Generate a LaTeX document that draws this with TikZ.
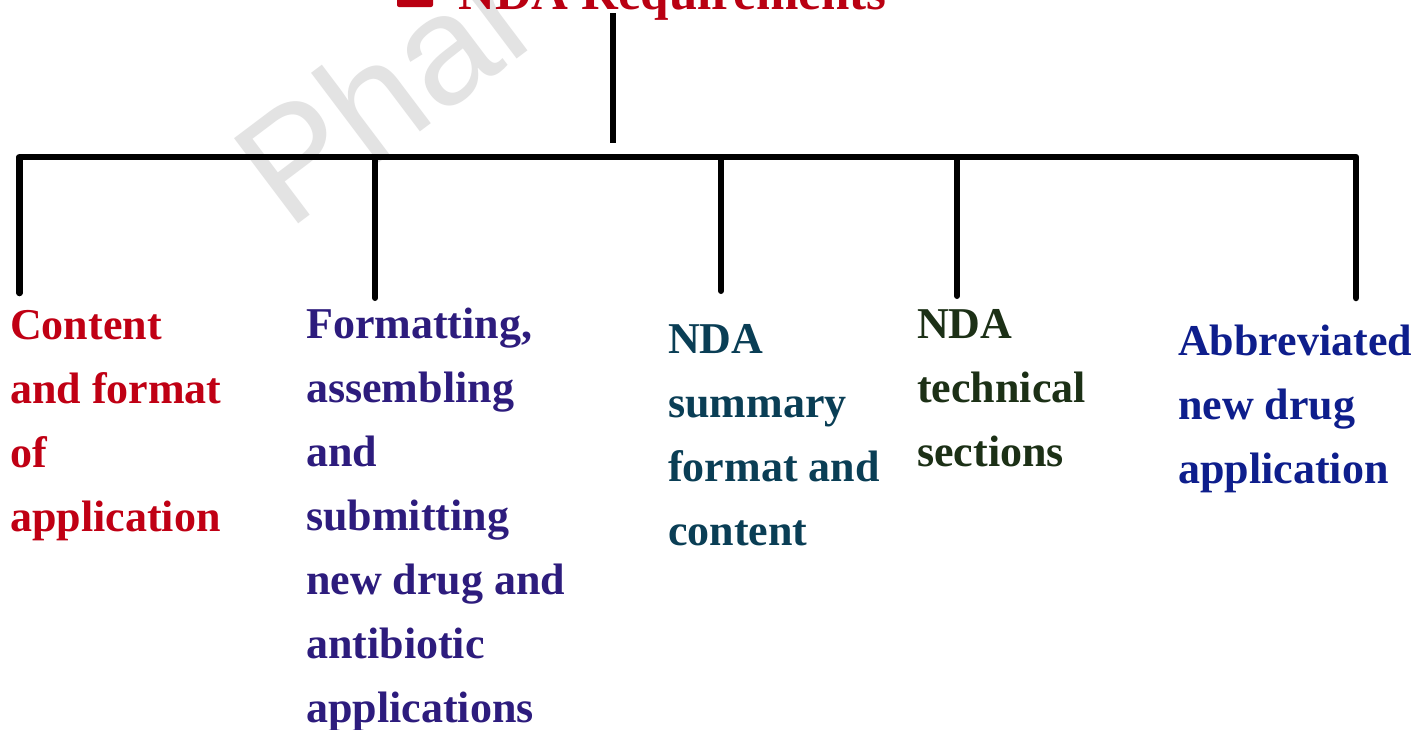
\documentclass[tikz,border=0pt]{standalone}
\usepackage{fontspec}
\setmainfont{Liberation Serif}
\newfontfamily\wmfont{Liberation Sans}
\definecolor{titlered}{RGB}{185,0,18}
\definecolor{cred}{RGB}{192,0,20}
\definecolor{cindigo}{RGB}{45,28,125}
\definecolor{cteal}{RGB}{10,62,85}
\definecolor{cgreen}{RGB}{28,48,22}
\definecolor{cblue}{RGB}{14,30,140}
\tikzset{
  conn/.style={line width=6.5pt, black, line join=round, line cap=round},
  label/.style={anchor=north west, inner sep=0pt, align=left,
    font=\fontsize{44}{64}\selectfont\bfseries},
}
\newcommand{\fl}{\rule{0pt}{32pt}}
\begin{document}
\begin{tikzpicture}[x=1pt,y=-1pt]
\useasboundingbox (0,0) rectangle (1420,729);
\clip (0,0) rectangle (1420,729);
\fill[white] (0,0) rectangle (1420,729);
% watermark
\node[anchor=base west, inner sep=0pt, rotate=37, text=black!11,
  font=\wmfont\fontsize{155}{160}\selectfont] (wm) at (288,232) {Phar};
% title
\fill[titlered, rounded corners=2pt] (397,-29) rectangle (433,7);
\node[anchor=base west, inner sep=0pt, text=titlered,
  font=\fontsize{51}{60}\selectfont\bfseries] (title) at (458,9) {NDA Requirements};
% coordinates
\coordinate (top) at (613,13);
\coordinate (stemend) at (613,143);
\coordinate (bus) at (613,157);
\coordinate (d1) at (19.5,293);
\coordinate (d2) at (375,298);
\coordinate (d3) at (721,291);
\coordinate (d4) at (957,296);
\coordinate (d5) at (1356,298);
% connectors
\draw[conn, line width=6pt, line cap=butt] (top) -- (stemend);
\draw[conn] (d1) -- (d1 |- bus) -- (d5 |- bus) -- (d5);
\draw[conn, line width=6pt] (d2 |- bus) -- (d2);
\draw[conn, line width=6pt] (d3 |- bus) -- (d3);
\draw[conn, line width=6pt] (d4 |- bus) -- (d4);
% labels
\node[label, text=cred] (l1) at (10,307) {\fl Content\\and format\\of\\application};
\node[label, text=cindigo] (l2) at (306,306) {\fl Formatting,\\assembling\\and\\submitting\\new drug and\\antibiotic\\applications};
\node[label, text=cteal] (l3) at (668,321) {\fl NDA\\summary\\format and\\content};
\node[label, text=cgreen] (l4) at (917,306) {\fl NDA\\technical\\sections};
\node[label, text=cblue] (l5) at (1178,323) {\fl Abbreviated\\new drug\\application};
\end{tikzpicture}
\end{document}
